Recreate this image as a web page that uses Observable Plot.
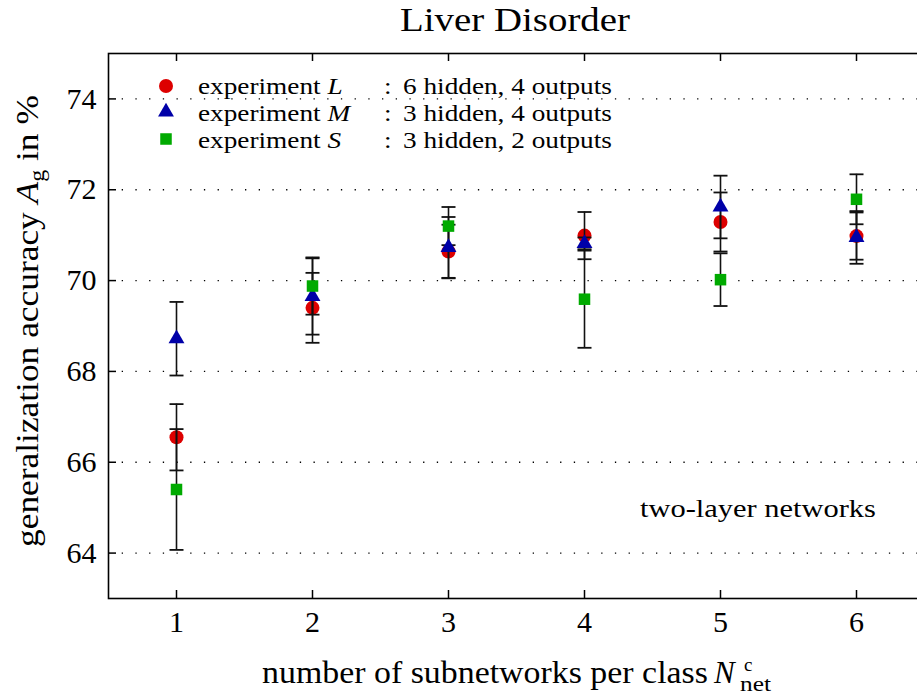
<!DOCTYPE html>
<html><head><meta charset="utf-8">
<script src="https://cdn.jsdelivr.net/npm/d3@7"></script>
<script src="https://cdn.jsdelivr.net/npm/@observablehq/plot@0.6"></script>
<style>html,body{margin:0;padding:0;background:#fff;overflow:hidden}</style>
</head><body><div id="chart"></div>
<script>
// ---- data ----
const nets = [1, 2, 3, 4, 5, 6];
const accL = [66.55, 69.40, 70.64, 70.99, 71.29, 70.98];
const errL = [0.73, 0.77, 0.59, 0.52, 0.65, 0.52];
const accM = [68.72, 69.65, 70.73, 70.82, 71.62, 70.95];
const errM = [0.81, 0.84, 0.67, 0.13, 0.69, 0.58];
const accS = [65.40, 69.88, 71.20, 69.59, 70.02, 71.79];
const errS = [1.33, 0.63, 0.42, 1.07, 0.58, 0.55];
const xTicks = [1, 2, 3, 4, 5, 6];
const yTicks = [64, 66, 68, 70, 72, 74];
const seriesNames = ["L", "M", "S"];
const seriesDesc = ["6 hidden, 4 outputs", "3 hidden, 4 outputs", "3 hidden, 2 outputs"];
const seriesColors = ["#dd0000", "#0000a8", "#00aa00"];
const seriesSymbols = ["circle", "triangle", "square"];
const titleText = "Liver Disorder";
const xLabelText = "number of subnetworks per class";
const yLabelText = "generalization accuracy";
const annotationText = "two-layer networks";

const FONT = "'Liberation Serif', 'Times New Roman', serif";
const rows = (acc, err) => nets.map((n, i) => ({n, v: acc[i], lo: acc[i] - err[i], hi: acc[i] + err[i]}));
const dataL = rows(accL, errL), dataM = rows(accM, errM), dataS = rows(accS, errS);
const capSymbol = {draw(ctx, size) { const w = Math.sqrt(size / Math.PI); ctx.moveTo(-w, 0); ctx.lineTo(w, 0); }};
const symR = {circle: 7, triangle: 5.9, square: 6.5};

const W = 917, H = 698, mL = 108, mR = -7, mT = 53, mB = 100;
const innerW = W - mL - mR, innerH = H - mT - mB;

function bars(d) {
  return [
    Plot.ruleX(d, {x: "n", y1: "lo", y2: "hi", stroke: "#111", strokeWidth: 1.6}),
    Plot.dot(d, {x: "n", y: "lo", symbol: capSymbol, r: 7, fill: "none", stroke: "#111", strokeWidth: 1.8}),
    Plot.dot(d, {x: "n", y: "hi", symbol: capSymbol, r: 7, fill: "none", stroke: "#111", strokeWidth: 1.8})
  ];
}
const marker = (d, k) => Plot.dot(d, {x: "n", y: "v", symbol: seriesSymbols[k], r: symR[seriesSymbols[k]], fill: seriesColors[k], stroke: "none"});

const chart = Plot.plot({
  width: W, height: H,
  marginLeft: mL, marginRight: mR, marginTop: mT, marginBottom: mB,
  x: {domain: [0.5, 6.5]},
  y: {domain: [63, 75]},
  style: {fontFamily: FONT, background: "#fff", color: "#000"},
  marks: [
    Plot.gridY(yTicks, {stroke: "#000", strokeOpacity: 1, strokeWidth: 1.3, strokeDasharray: "1.3,12.4"}),
    marker(dataL, 0),
    ...bars(dataL), ...bars(dataM), ...bars(dataS),
    marker(dataM, 1),
    marker(dataS, 2),
    Plot.ruleX(xTicks, {x: d => d, insetTop: innerH - 8, stroke: "#000", strokeWidth: 1.5}),
    Plot.ruleX(xTicks, {x: d => d, insetBottom: innerH - 8, stroke: "#000", strokeWidth: 1.5}),
    Plot.ruleY(yTicks, {y: d => d, insetRight: innerW - 8, stroke: "#000", strokeWidth: 1.5}),
    Plot.frame({stroke: "#000", strokeWidth: 1.6}),
    Plot.axisX(xTicks, {tickSize: 0, tickPadding: 12, fontSize: 30, label: null, tickFormat: d => String(d)}),
    Plot.axisY(yTicks, {tickSize: 0, tickPadding: 12, fontSize: 30, label: null, tickFormat: d => String(d)})
  ]
});
document.getElementById("chart").appendChild(chart);
const svg = d3.select(chart);

function addText({x, y, parts, size, anchor = "start", width = null, sx = null, rotate = 0}) {
  const g = svg.append("g").attr("transform", `translate(${x},${y}) rotate(${rotate})`);
  const inner = g.append("g");
  const t = inner.append("text").attr("font-family", FONT).attr("font-size", size)
    .attr("fill", "#000").attr("text-anchor", anchor);
  for (const p of parts) {
    const ts = t.append("tspan").text(p.text);
    if (p.italic) ts.attr("font-style", "italic");
    if (p.size) ts.attr("font-size", p.size);
    if (p.dy) ts.attr("dy", p.dy);
  }
  let s = sx;
  if (width) s = width / t.node().getComputedTextLength();
  if (s) inner.attr("transform", `scale(${s},1)`);
  return s;
}

// title
addText({x: 515, y: 31, parts: [{text: titleText}], size: 33, anchor: "middle", width: 230});
// x label
addText({x: 262, y: 683, parts: [{text: xLabelText}], size: 31, width: 446});
addText({x: 714, y: 683, parts: [{text: "N", italic: true}], size: 31});
addText({x: 744, y: 671, parts: [{text: "c"}], size: 19});
addText({x: 740, y: 691, parts: [{text: "net"}], size: 20, width: 31});
// y label
addText({x: 37.5, y: 547, rotate: -90, size: 31, width: 452, parts: [
  {text: yLabelText + " "}, {text: "A", italic: true}, {text: "g", size: 21, dy: 6}, {text: " in %", dy: -6}
]});
// annotation
addText({x: 640, y: 517, parts: [{text: annotationText}], size: 25, width: 236});

// legend
const legY = [86, 112, 139];
const legBase = [93.5, 120.5, 147.5];
let lsx = null;
seriesNames.forEach((nm, k) => {
  const sym = d3.symbol().type({circle: d3.symbolCircle, triangle: d3.symbolTriangle, square: d3.symbolSquare}[seriesSymbols[k]])
    .size(Math.PI * symR[seriesSymbols[k]] ** 2);
  svg.append("path").attr("d", sym()).attr("transform", `translate(166,${legY[k]})`).attr("fill", seriesColors[k]);
  if (lsx === null) {
    lsx = addText({x: 403, y: legBase[k], parts: [{text: seriesDesc[k]}], size: 24, width: 209});
  } else {
    addText({x: 403, y: legBase[k], parts: [{text: seriesDesc[k]}], size: 24, sx: lsx});
  }
  addText({x: 198, y: legBase[k], parts: [{text: "experiment "}, {text: nm, italic: true}], size: 24, sx: lsx});
  addText({x: 384, y: legBase[k], parts: [{text: ":"}], size: 24, sx: lsx});
});
</script></body></html>
